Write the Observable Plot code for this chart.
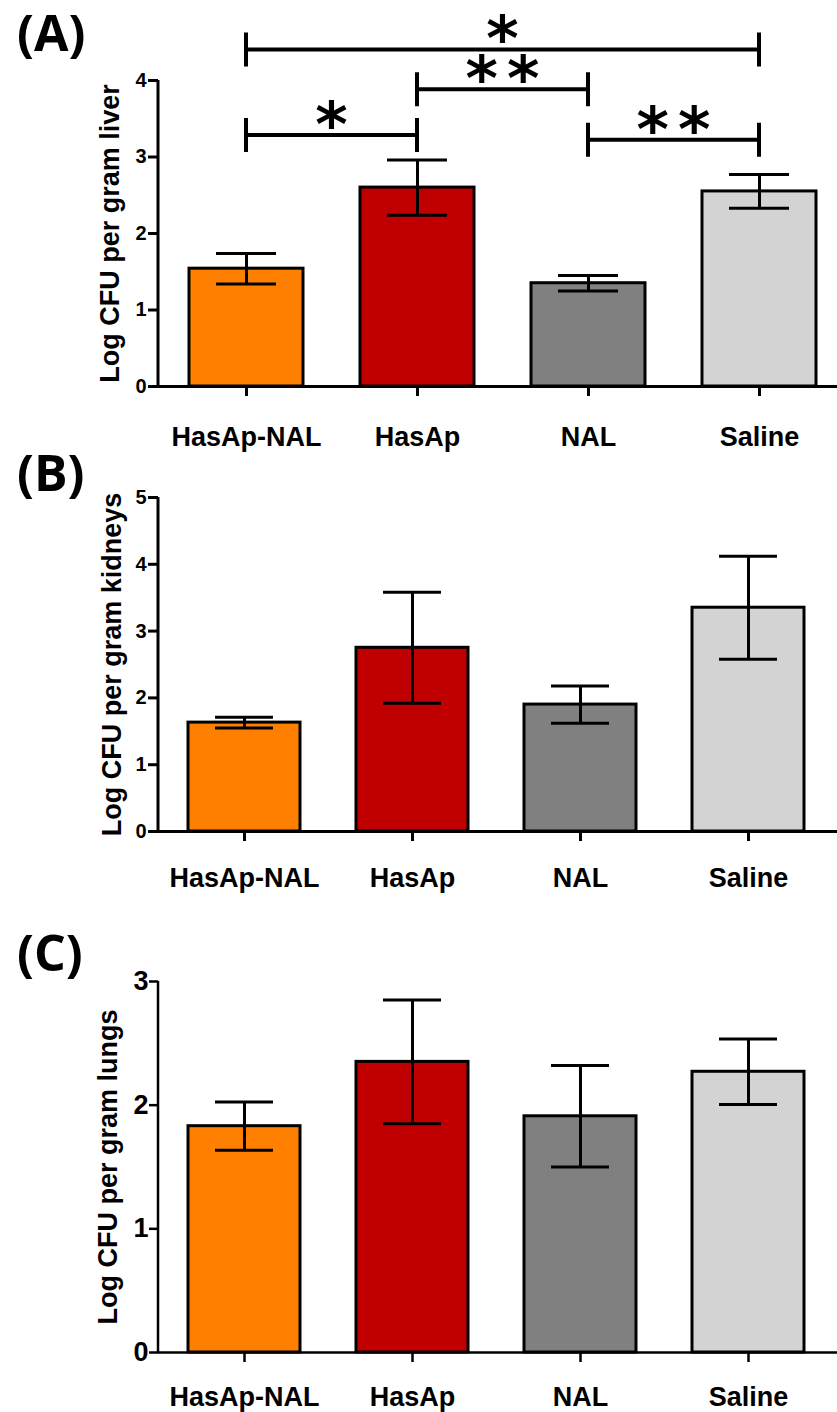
<!DOCTYPE html>
<html><head><meta charset="utf-8">
<script src="https://cdn.jsdelivr.net/npm/d3@7"></script>
<script src="https://cdn.jsdelivr.net/npm/@observablehq/plot@0.6"></script>
<style>
body{margin:0;background:#fff;}
#wrap{position:relative;width:837px;height:1412px;overflow:hidden;background:#fff;}
.panel{position:absolute;left:0;}
.tag{position:absolute;left:17px;font-family:"Open Sans",sans-serif;font-weight:700;font-size:50px;line-height:1.2;color:#000;}
</style></head><body><div id="wrap"></div>
<script>
// ---- data ----
const groups = ["HasAp-NAL", "HasAp", "NAL", "Saline"];
const colors = ["#FF8000", "#C00000", "#808080", "#D3D3D3"];
const liverMean = [1.54, 2.60, 1.35, 2.55];
const liverSem = [0.20, 0.36, 0.10, 0.22];
const kidneyMean = [1.63, 2.75, 1.90, 3.35];
const kidneySem = [0.08, 0.83, 0.28, 0.77];
const lungMean = [1.83, 2.35, 1.91, 2.27];
const lungSem = [0.195, 0.50, 0.41, 0.265];
const sigFrom = ["HasAp-NAL", "HasAp", "HasAp-NAL", "NAL"];
const sigTo = ["Saline", "NAL", "HasAp", "Saline"];
const sigLevel = [4.40, 3.88, 3.28, 3.22];
const sigLabel = ["*", "**", "*", "**"];
const panelTags = ["(A)", "(B)", "(C)"];
const yLabels = ["Log CFU per gram liver", "Log CFU per gram kidneys", "Log CFU per gram lungs"];

const wrap = document.getElementById("wrap");

function yAxisLine(yMax, w) {
  return (index, scales, values, dims) =>
    d3.create("svg:line")
      .attr("x1", dims.marginLeft).attr("x2", dims.marginLeft)
      .attr("y1", scales.y(yMax)).attr("y2", scales.y(0) + w / 2)
      .attr("stroke", "black").attr("stroke-width", w).node();
}

function brackets(index, scales) {
  const {x, y} = scales;
  const bw = x.bandwidth();
  const g = d3.create("svg:g");
  sigFrom.forEach((f, i) => {
    const x1 = x(f) + bw / 2, x2 = x(sigTo[i]) + bw / 2, yy = y(sigLevel[i]);
    g.append("path")
      .attr("d", `M${x1},${yy - 17}V${yy + 17}M${x1},${yy}H${x2}M${x2},${yy - 17}V${yy + 17}`)
      .attr("stroke", "black").attr("stroke-width", 4).attr("fill", "none");
    const ls = sigLabel[i].length > 1 ? 9 : 0;
    g.append("text")
      .attr("x", (x1 + x2) / 2 + ls / 2).attr("y", yy + 11)
      .attr("text-anchor", "middle")
      .attr("font-family", "DejaVu Sans")
      .attr("font-weight", "bold")
      .attr("font-size", 62)
      .attr("letter-spacing", ls)
      .attr("fill", "black")
      .text(sigLabel[i]);
  });
  return g.node();
}

function panel(k, {top, height, marginTop, marginBottom, xRange, yMax, means, sems, tickFont, tickSize, tickPad, axisWidth, xPad, labelDx, extra}) {
  const rows = groups.map((g, i) => ({group: g, mean: means[i], lo: means[i] - sems[i], hi: means[i] + sems[i]}));
  const chart = Plot.plot({
    width: 837, height, marginTop, marginBottom, marginLeft: 158, marginRight: 0,
    style: {fontFamily: "'Liberation Sans', Arial, sans-serif", background: "none", color: "black", overflow: "visible"},
    x: {domain: groups, range: xRange, paddingInner: 0.331, paddingOuter: 0.172, label: null},
    y: {domain: [0, yMax], label: null},
    color: {domain: groups, range: colors},
    marks: [
      Plot.barY(rows, {x: "group", y: "mean", fill: "group", stroke: "black", strokeWidth: 3}),
      Plot.link(rows, {x1: "group", x2: "group", y1: "lo", y2: "hi", stroke: "black", strokeWidth: 3}),
      Plot.tickY(rows, {x: "group", y: "hi", stroke: "black", strokeWidth: 3, insetLeft: 27, insetRight: 27}),
      Plot.tickY(rows, {x: "group", y: "lo", stroke: "black", strokeWidth: 3, insetLeft: 27, insetRight: 27}),
      Plot.ruleY([0], {stroke: "black", strokeWidth: axisWidth}),
      yAxisLine(yMax, axisWidth),
      Plot.axisY({ticks: d3.range(0, yMax + 1), tickFormat: d3.format("d"), tickSize, tickPadding: tickPad, fontSize: tickFont, fontWeight: "bold", strokeWidth: axisWidth, label: null}),
      Plot.axisX({tickSize: 10, tickPadding: xPad, fontSize: 27, fontWeight: "bold", strokeWidth: axisWidth, label: null}),
      Plot.text([yLabels[k]], {text: d => d, frameAnchor: "left", textAnchor: "middle", lineAnchor: "middle", rotate: -90, dx: labelDx, fontSize: 27, fontWeight: "bold", fill: "black"}),
      ...(extra || [])
    ]
  });
  const div = document.createElement("div");
  div.className = "panel";
  div.style.top = top + "px";
  div.appendChild(chart);
  wrap.appendChild(div);
  const tag = document.createElement("div");
  tag.className = "tag";
  tag.style.top = (top + 2) + "px";
  tag.textContent = panelTags[k];
  wrap.appendChild(tag);
}

panel(0, {top: 0, height: 460, marginTop: 80, marginBottom: 74, xRange: [158, 848], yMax: 4,
  means: liverMean, sems: liverSem, tickFont: 20, tickSize: 10, tickPad: 2, axisWidth: 3, xPad: 30, labelDx: -48, extra: [brackets]});
panel(1, {top: 440, height: 460, marginTop: 57, marginBottom: 69, xRange: [158, 835], yMax: 5,
  means: kidneyMean, sems: kidneySem, tickFont: 20, tickSize: 10, tickPad: 2, axisWidth: 3, xPad: 26, labelDx: -46});
panel(2, {top: 920, height: 492, marginTop: 61, marginBottom: 60, xRange: [158, 835], yMax: 3,
  means: lungMean, sems: lungSem, tickFont: 27, tickSize: 9, tickPad: 1, axisWidth: 2.5, xPad: 24, labelDx: -50});
</script>
</body></html>
